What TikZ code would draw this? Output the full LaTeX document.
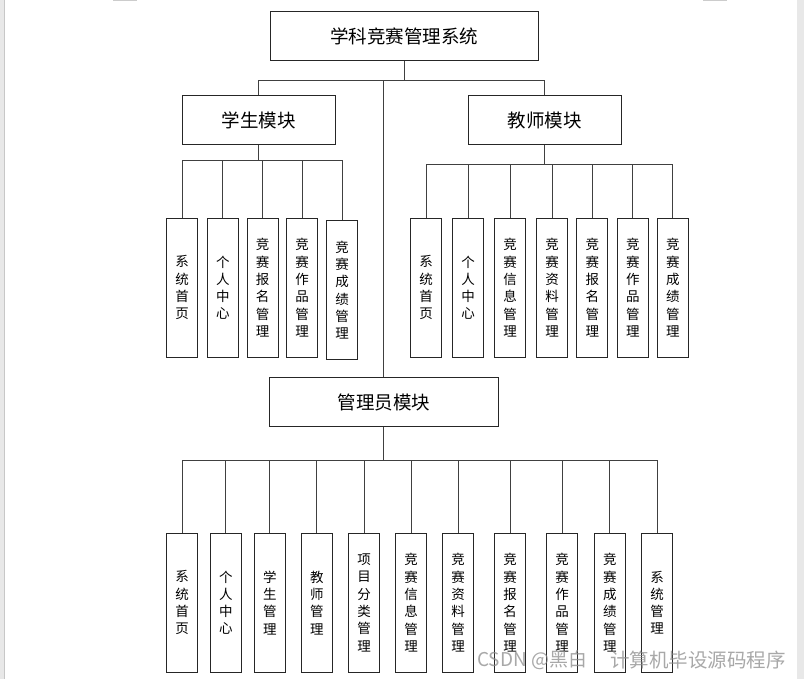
\documentclass[tikz,border=0pt]{standalone}
\usepackage{fontspec}
\setmainfont{Noto Sans CJK SC}
\begin{document}
\begin{tikzpicture}[x=1pt,y=-1pt,
  box/.style={draw=black!85,line width=1pt,fill=white,inner sep=0pt,
    minimum height=48.4pt,font=\fontsize{18.5}{22}\selectfont},
  vbox/.style={draw=black!85,line width=1pt,fill=white,inner sep=0pt,
    minimum width=31pt,minimum height=139.3pt,align=center,
    font=\fontsize{13.5}{17.3}\selectfont},
  conn/.style={draw=black!75,line width=1pt},
  wmark/.style={text=black!45,opacity=0.75,anchor=west,inner sep=0pt}]
\useasboundingbox (0,0) rectangle (804,679);
\fill[white] (0,0) rectangle (804,679);
\fill[black!9] (0,0) rectangle (5,679);
\draw[black!22,line width=0.8pt] (4.6,0) -- (4.6,679);
\fill[black!9] (797,0) rectangle (804,679);
\fill[black!20] (113,0) rectangle (137,1.5);
\fill[black!20] (703,0) rectangle (727,1.5);

% top level
\node[box,minimum width=268pt] (top) at (404,36) {学科竞赛管理系统};
\node[box,minimum width=153.4pt] (stu) at (258.7,120.2) {学生模块};
\node[box,minimum width=153.4pt] (tea) at (544.8,120.2) {教师模块};
\node[box,minimum width=229pt] (adm) at (383.8,402) {管理员模块};

\coordinate (j0) at (404,80.3);
\draw[conn] (top.south) -- (j0);
\draw[conn] (stu.north) |- (j0) -| (tea.north);
\draw[conn] (adm.north) -- (adm.north |- j0);

% student children
\node[vbox] (s1) at (182.2,287.7) {系\\统\\首\\页};
\node[vbox] (s2) at (222.8,287.7) {个\\人\\中\\心};
\node[vbox] (s3) at (262.7,287.7) {竞\\赛\\报\\名\\管\\理};
\node[vbox] (s4) at (302.2,287.7) {竞\\赛\\作\\品\\管\\理};
\node[vbox] (s5) at (342.2,290.2) {竞\\赛\\成\\绩\\管\\理};
\coordinate (js) at (258.7,160.7);
\draw[conn] (stu.south) -- (js);
\foreach \n in {s1,s2,s3,s4,s5} \draw[conn] (\n.north) |- (js);

% teacher children
\node[vbox] (t1) at (426.2,287.7) {系\\统\\首\\页};
\node[vbox] (t2) at (468.2,287.7) {个\\人\\中\\心};
\node[vbox] (t3) at (510.2,287.7) {竞\\赛\\信\\息\\管\\理};
\node[vbox] (t4) at (552.2,287.7) {竞\\赛\\资\\料\\管\\理};
\node[vbox] (t5) at (592.3,287.7) {竞\\赛\\报\\名\\管\\理};
\node[vbox] (t6) at (632.8,287.7) {竞\\赛\\作\\品\\管\\理};
\node[vbox] (t7) at (672.8,287.7) {竞\\赛\\成\\绩\\管\\理};
\coordinate (jt) at (544.8,165);
\draw[conn] (tea.south) -- (jt);
\foreach \n in {t1,t2,t3,t4,t5,t6,t7} \draw[conn] (\n.north) |- (jt);

% admin children
\node[vbox] (a1) at (182.2,602.7) {系\\统\\首\\页};
\node[vbox] (a2) at (225.8,602.7) {个\\人\\中\\心};
\node[vbox] (a3) at (269.8,602.7) {学\\生\\管\\理};
\node[vbox] (a4) at (316.8,602.7) {教\\师\\管\\理};
\node[vbox] (a5) at (364.0,602.7) {项\\目\\分\\类\\管\\理};
\node[vbox] (a6) at (411.0,602.7) {竞\\赛\\信\\息\\管\\理};
\node[vbox] (a7) at (458.2,602.7) {竞\\赛\\资\\料\\管\\理};
\node[vbox] (a8) at (510.2,602.7) {竞\\赛\\报\\名\\管\\理};
\node[vbox] (a9) at (562.2,602.7) {竞\\赛\\作\\品\\管\\理};
\node[vbox] (a10) at (609.8,602.7) {竞\\赛\\成\\绩\\管\\理};
\node[vbox] (a11) at (657.2,602.7) {系\\统\\管\\理};
\coordinate (ja) at (383.8,460.8);
\draw[conn] (adm.south) -- (ja);
\foreach \n in {a1,a2,a3,a4,a5,a6,a7,a8,a9,a10,a11} \draw[conn] (\n.north) |- (ja);

% watermark
\node[wmark,font=\fontsize{19}{22}\selectfont] (w1) at (477,660) {CSDN @黑白};
\node[wmark,font=\fontsize{19.5}{22}\selectfont] (w2) at (610,660) {计算机毕设源码程序};
\end{tikzpicture}
\end{document}
